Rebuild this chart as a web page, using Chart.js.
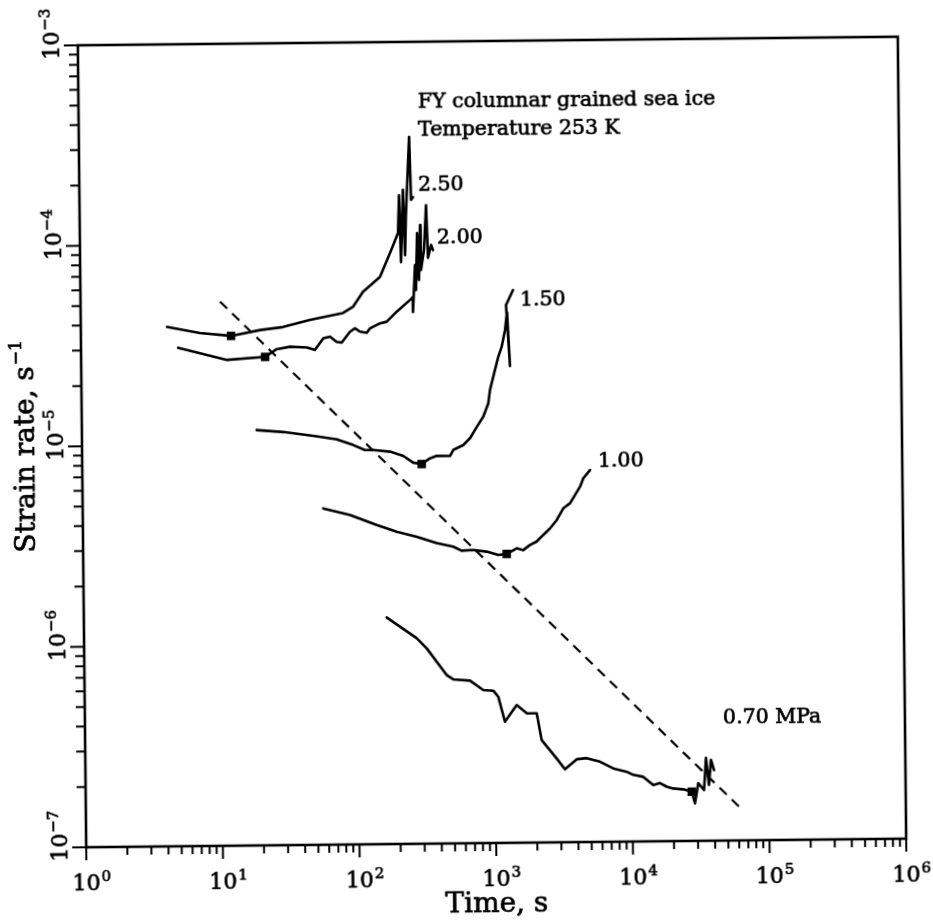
<!DOCTYPE html>
<html>
<head>
<meta charset="utf-8">
<title>Creep strain rate of sea ice</title>
<script src="https://cdn.jsdelivr.net/npm/chart.js@4.4.0/dist/chart.umd.min.js"></script>
<style>
  html, body { margin: 0; padding: 0; background: #fff; overflow: hidden; }
  #wrap { width: 933px; height: 924px; transform: rotate(-0.6deg); transform-origin: 492px 442px; }
  canvas { display: block; }
</style>
</head>
<body>
<div id="wrap"><canvas id="grafica" width="933" height="924"></canvas></div>
<script>
// stress of each test (MPa)
const stressLabels = ['2.50', '2.00', '1.50', '1.00', '0.70 MPa'];

// decade exponents for the axis labels
const xTickExp = [0, 1, 2, 3, 4, 5, 6];
const yTickExp = [-7, -6, -5, -4, -3];

// time (s) / strain rate (1/s) for every test
const time250 = [4.27, 7.44, 12.55, 20.5, 30.2, 47.6, 83.1, 98.4, 116.8, 156, 185.4, 213, 218, 223, 233, 239, 244, 261, 267, 276];
const rate250 = [3.90e-5, 3.62e-5, 3.49e-5, 3.72e-5, 3.84e-5, 4.15e-5, 4.48e-5, 4.80e-5, 5.69e-5, 6.74e-5, 8.87e-5, 1.115e-4, 1.72e-4, 7.98e-5, 1.83e-4, 8.65e-5, 1.37e-4, 3.36e-4, 1.63e-4, 1.68e-4];

const time200 = [5.13, 11.7, 22.2, 27.0, 33.8, 44.8, 51.5, 59.4, 66.5, 74.3, 80.9, 93.2, 101.4, 110.3, 123.5, 130.6, 154.7, 173.3, 205.5, 257.5, 272.4, 270.4, 281.9, 285.5, 293.3, 300.8, 308.8, 311.6, 328.9, 343, 351.5, 370.6, 382.8];
const rate200 = [3.06e-5, 2.65e-5, 2.73e-5, 2.98e-5, 3.06e-5, 3.03e-5, 2.94e-5, 3.36e-5, 3.42e-5, 3.22e-5, 3.19e-5, 3.61e-5, 3.75e-5, 3.61e-5, 3.56e-5, 3.74e-5, 3.96e-5, 4.03e-5, 4.52e-5, 5.16e-5, 5.35e-5, 4.49e-5, 7.70e-5, 5.78e-5, 1.11e-4, 6.49e-5, 1.22e-4, 7.27e-5, 9.14e-5, 1.53e-4, 8.34e-5, 9.68e-5, 9.13e-5];

const time150 = [19.0, 29.8, 52.2, 73.1, 96.6, 117.5, 135.1, 179, 223.8, 264.6, 304.8, 350.8, 392.8, 491.6, 520.2, 616.3, 690.8, 775, 867.6, 946, 975.7, 1065, 1128.6, 1197, 1270, 1317.6, 1373, 1297, 1463];
const rate150 = [1.18e-5, 1.15e-5, 1.09e-5, 1.05e-5, 9.82e-6, 9.26e-6, 9.25e-6, 9.06e-6, 8.61e-6, 7.96e-6, 7.83e-6, 8.35e-6, 8.58e-6, 8.56e-6, 9.17e-6, 9.69e-6, 1.047e-5, 1.19e-5, 1.34e-5, 1.56e-5, 1.82e-5, 2.29e-5, 2.66e-5, 2.98e-5, 3.61e-5, 4.44e-5, 2.39e-5, 4.81e-5, 5.71e-5];

const time100 = [57.6, 90.2, 141.2, 197.6, 276.5, 386.8, 511.2, 588.9, 715.8, 897, 1090, 1256, 1488, 1663, 1862, 2086, 2334, 2617, 2935, 3286, 3681, 4012, 4370, 4627, 5187];
const rate100 = [4.76e-6, 4.40e-6, 3.91e-6, 3.61e-6, 3.40e-6, 3.15e-6, 3.02e-6, 2.88e-6, 2.90e-6, 2.84e-6, 2.73e-6, 2.76e-6, 2.94e-6, 2.88e-6, 3.05e-6, 3.17e-6, 3.42e-6, 3.68e-6, 4.05e-6, 4.63e-6, 4.90e-6, 5.39e-6, 5.92e-6, 6.52e-6, 7.16e-6];

const time070 = [164.4, 271.6, 320.9, 447.3, 499.5, 661.9, 826.6, 978, 1063, 1185, 1447, 1710, 2024, 2192, 2812, 3228, 3939, 4663, 5832, 7287, 9128, 10190, 12060, 14250, 15960, 17860, 19950, 23610, 27200, 28690, 30430, 33460, 34790, 36420, 37840, 39740];
const rate070 = [1.35e-6, 1.06e-6, 9.43e-7, 6.92e-7, 6.58e-7, 6.47e-7, 5.80e-7, 5.75e-7, 5.36e-7, 4.02e-7, 4.86e-7, 4.42e-7, 4.41e-7, 3.24e-7, 2.62e-7, 2.31e-7, 2.59e-7, 2.62e-7, 2.51e-7, 2.32e-7, 2.23e-7, 2.15e-7, 2.10e-7, 1.91e-7, 1.95e-7, 1.87e-7, 1.83e-7, 1.81e-7, 1.76e-7, 1.54e-7, 1.94e-7, 1.79e-7, 2.59e-7, 1.90e-7, 2.53e-7, 2.25e-7];

// minimum strain rate of each test
const minTime = [12.55, 22.2, 304.8, 1256, 27200];
const minRate = [3.49e-5, 2.73e-5, 7.83e-6, 2.76e-6, 1.76e-7];

// line through the minima
const trendTime = [10.48, 62920];
const trendRate = [5.18e-5, 1.43e-7];

// where the texts sit, in data units (left edge, middle)
const notes = [
    { text: 'FY columnar grained sea ice', t: 305, r: 4.96e-4 },
    { text: 'Temperature 253 K', t: 304, r: 3.63e-4 },
    { text: stressLabels[0], t: 301, r: 1.93e-4 },
    { text: stressLabels[1], t: 410, r: 1.05e-4 },
    { text: stressLabels[2], t: 1644, r: 5.09e-5 },
    { text: stressLabels[3], t: 5943, r: 7.85e-6 },
    { text: stressLabels[4], t: 46660, r: 4.08e-7 }
];

const FONT = '"DejaVu Serif", serif';
const pares = (ts, rs) => ts.map((t, i) => ({ x: t, y: rs[i] }));

function curva(ts, rs) {
    return {
        data: pares(ts, rs),
        showLine: true,
        borderColor: '#000',
        borderWidth: 2.6,
        pointRadius: 0,
        tension: 0,
        borderJoinStyle: 'round',
        borderCapStyle: 'round'
    };
}

// filled text with a thin outline so the letters look a bit heavier
function texto(ctx, s, x, y) {
    ctx.fillText(s, x, y);
    ctx.lineWidth = 0.7;
    ctx.strokeText(s, x, y);
}

// 10 with a raised exponent, drawn along the current x direction
function potencia(ctx, exp, cx, base) {
    const main = '10';
    const sup = exp < 0 ? '\u2212' + Math.abs(exp) : String(exp);
    ctx.font = '22px ' + FONT;
    const w = ctx.measureText(main).width;
    ctx.textAlign = 'left';
    ctx.textBaseline = 'alphabetic';
    texto(ctx, main, cx - w / 2, base);
    ctx.font = '15px ' + FONT;
    texto(ctx, sup, cx + w / 2 + 1, base - 9);
}

const marco = {
    id: 'marco',
    afterDraw(chart) {
        const { ctx, chartArea: a, scales: { x, y } } = chart;
        ctx.save();
        ctx.strokeStyle = '#000';
        ctx.fillStyle = '#000';
        ctx.lineWidth = 2.6;
        ctx.strokeRect(a.left, a.top, a.right - a.left, a.bottom - a.top);

        // ticks, outside the frame
        ctx.lineWidth = 2;
        ctx.beginPath();
        xTickExp.forEach((e, i) => {
            const p = x.getPixelForValue(Math.pow(10, e));
            ctx.moveTo(p, a.bottom); ctx.lineTo(p, a.bottom + 13);
            if (i < xTickExp.length - 1) {
                for (let m = 2; m <= 9; m++) {
                    const q = x.getPixelForValue(m * Math.pow(10, e));
                    ctx.moveTo(q, a.bottom); ctx.lineTo(q, a.bottom + 8);
                }
            }
        });
        yTickExp.forEach((e, i) => {
            const p = y.getPixelForValue(Math.pow(10, e));
            ctx.moveTo(a.left, p); ctx.lineTo(a.left - 14, p);
            if (i < yTickExp.length - 1) {
                for (let m = 2; m <= 9; m++) {
                    const q = y.getPixelForValue(m * Math.pow(10, e));
                    ctx.moveTo(a.left, q); ctx.lineTo(a.left - 9, q);
                }
            }
        });
        ctx.stroke();

        // decade labels
        xTickExp.forEach(e => potencia(ctx, e, x.getPixelForValue(Math.pow(10, e)), a.bottom + 43));
        yTickExp.forEach(e => {
            ctx.save();
            ctx.translate(a.left - 19, y.getPixelForValue(Math.pow(10, e)));
            ctx.rotate(-Math.PI / 2);
            potencia(ctx, e, 0, 0);
            ctx.restore();
        });

        // axis titles
        ctx.font = '28px ' + FONT;
        ctx.textAlign = 'center';
        ctx.textBaseline = 'middle';
        texto(ctx, 'Time, s', (a.left + a.right) / 2, a.bottom + 62);

        ctx.save();
        ctx.translate(a.left - 55, (a.top + a.bottom) / 2);
        ctx.rotate(-Math.PI / 2);
        const tit = 'Strain rate, s';
        ctx.font = '28px ' + FONT;
        const w1 = ctx.measureText(tit).width;
        ctx.font = '17px ' + FONT;
        const w2 = ctx.measureText('\u22121').width;
        ctx.textAlign = 'left';
        ctx.font = '28px ' + FONT;
        texto(ctx, tit, -(w1 + w2) / 2, 0);
        ctx.font = '17px ' + FONT;
        texto(ctx, '\u22121', -(w1 + w2) / 2 + w1 + 1, -9);
        ctx.restore();

        // notes inside the plot
        ctx.font = '20.5px ' + FONT;
        ctx.textAlign = 'left';
        ctx.textBaseline = 'middle';
        notes.forEach(n => texto(ctx, n.text, x.getPixelForValue(n.t), y.getPixelForValue(n.r)));
        ctx.restore();
    }
};

new Chart(document.getElementById('grafica'), {
    type: 'scatter',
    data: {
        datasets: [
            curva(time250, rate250),
            curva(time200, rate200),
            curva(time150, rate150),
            curva(time100, rate100),
            curva(time070, rate070),
            {
                data: pares(minTime, minRate),
                pointStyle: 'rect',
                pointRadius: 6,
                backgroundColor: '#000',
                borderWidth: 0
            },
            {
                data: pares(trendTime, trendRate),
                showLine: true,
                borderColor: '#000',
                borderWidth: 2.2,
                borderDash: [10, 7],
                pointRadius: 0
            }
        ]
    },
    options: {
        responsive: false,
        animation: false,
        events: [],
        devicePixelRatio: 1,
        layout: { padding: { left: 82, top: 41, right: 31, bottom: 81 } },
        plugins: { legend: { display: false }, tooltip: { enabled: false } },
        scales: {
            x: { type: 'logarithmic', min: 1, max: 1e6, display: false },
            y: { type: 'logarithmic', min: 1e-7, max: 1e-3, display: false }
        }
    },
    plugins: [marco]
});
</script>
</body>
</html>
